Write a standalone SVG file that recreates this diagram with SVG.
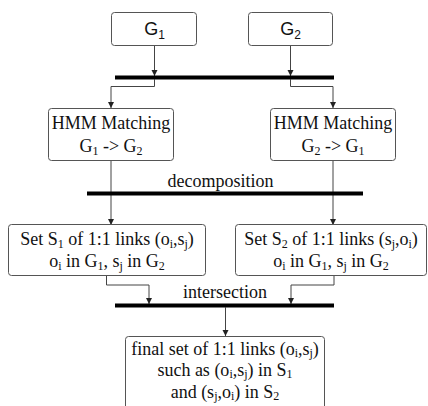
<svg xmlns="http://www.w3.org/2000/svg" width="428" height="406" viewBox="0 0 428 406">
<style>
.box{fill:#fff;stroke:#555;stroke-width:1}
.conn{fill:none;stroke:#444;stroke-width:1}
.bar{stroke:#000;stroke-width:4}
.s{font-family:"Liberation Serif","Times New Roman",serif;font-size:18px;fill:#111;text-anchor:middle}
.g{font-family:"Liberation Sans",Arial,sans-serif;font-size:18px;fill:#111;text-anchor:middle}
.sub{font-size:12px}
</style>
<defs>
<marker id="ah" markerWidth="6" markerHeight="8" refX="6" refY="4" orient="auto" markerUnits="userSpaceOnUse">
<path d="M0,1 L6,4 L0,7 Z" fill="#222"/>
</marker>
</defs>
<g id="connectors">
<path class="conn" d="M154.5,45 V76" marker-end="url(#ah)"/>
<path class="conn" d="M290.5,45 V76" marker-end="url(#ah)"/>
<path class="bar" d="M115,77.5 H334"/>
<path class="conn" d="M154.5,79 V86.5 H111 V108" marker-end="url(#ah)"/>
<path class="conn" d="M290.5,79 V86.5 H333 V108" marker-end="url(#ah)"/>
<path class="conn" d="M111,160 V225" marker-end="url(#ah)"/>
<path class="conn" d="M333,160 V225" marker-end="url(#ah)"/>
<path class="bar" d="M87,193.5 H363"/>
<path class="conn" d="M106.5,276 V285 H149 V304" marker-end="url(#ah)"/>
<path class="conn" d="M334,276 V285 H291 V304" marker-end="url(#ah)"/>
<path class="bar" d="M115,305.5 H334"/>
<path class="conn" d="M225.5,307 V336" marker-end="url(#ah)"/>
</g>
<g id="label-decomposition"><text class="s" x="220.5" y="186.5">decomposition</text></g>
<g id="label-intersection"><text class="s" x="225" y="298">intersection</text></g>
<g id="G1">
<rect class="box" x="111.5" y="12.5" width="85" height="33" rx="3"/>
<text class="g" x="154.5" y="35">G<tspan class="sub" dy="4">1</tspan></text>
</g>
<g id="G2">
<rect class="box" x="248.5" y="12.5" width="84" height="33" rx="3"/>
<text class="g" x="290.5" y="35">G<tspan class="sub" dy="4">2</tspan></text>
</g>
<g id="hmm1">
<rect class="box" x="48.5" y="108.5" width="125" height="52" rx="3"/>
<text class="s" x="111" y="128.5">HMM Matching</text>
<text class="s" x="111" y="151.5">G<tspan class="sub" dy="3">1</tspan><tspan dy="-3"> -&gt; G</tspan><tspan class="sub" dy="3">2</tspan></text>
</g>
<g id="hmm2">
<rect class="box" x="270.5" y="108.5" width="125" height="52" rx="3"/>
<text class="s" x="333" y="128.5">HMM Matching</text>
<text class="s" x="333" y="151.5">G<tspan class="sub" dy="3">2</tspan><tspan dy="-3"> -&gt; G</tspan><tspan class="sub" dy="3">1</tspan></text>
</g>
<g id="set1">
<rect class="box" x="8.5" y="224.5" width="197" height="51" rx="3"/>
<text class="s" x="107" y="245">Set S<tspan class="sub" dy="3">1</tspan><tspan dy="-3"> of 1:1 links (o</tspan><tspan class="sub" dy="3">i</tspan><tspan dy="-3">,s</tspan><tspan class="sub" dy="3">j</tspan><tspan dy="-3">)</tspan></text>
<text class="s" x="107" y="267">o<tspan class="sub" dy="3">i</tspan><tspan dy="-3"> in G</tspan><tspan class="sub" dy="3">1</tspan><tspan dy="-3">, s</tspan><tspan class="sub" dy="3">j</tspan><tspan dy="-3"> in G</tspan><tspan class="sub" dy="3">2</tspan></text>
</g>
<g id="set2">
<rect class="box" x="235.5" y="224.5" width="191" height="51" rx="3"/>
<text class="s" x="331" y="245">Set S<tspan class="sub" dy="3">2</tspan><tspan dy="-3"> of 1:1 links (s</tspan><tspan class="sub" dy="3">j</tspan><tspan dy="-3">,o</tspan><tspan class="sub" dy="3">i</tspan><tspan dy="-3">)</tspan></text>
<text class="s" x="331" y="267">o<tspan class="sub" dy="3">i</tspan><tspan dy="-3"> in G</tspan><tspan class="sub" dy="3">1</tspan><tspan dy="-3">, s</tspan><tspan class="sub" dy="3">j</tspan><tspan dy="-3"> in G</tspan><tspan class="sub" dy="3">2</tspan></text>
</g>
<g id="final">
<rect class="box" x="125.5" y="336.5" width="199" height="80" rx="3"/>
<text class="s" x="225" y="354.5">final set of 1:1 links (o<tspan class="sub" dy="2">i</tspan><tspan dy="-2">,s</tspan><tspan class="sub" dy="2">j</tspan><tspan dy="-2">)</tspan></text>
<text class="s" x="225" y="376">such as (o<tspan class="sub" dy="2">i</tspan><tspan dy="-2">,s</tspan><tspan class="sub" dy="2">j</tspan><tspan dy="-2">) in S</tspan><tspan class="sub" dy="2">1</tspan></text>
<text class="s" x="225" y="398">and (s<tspan class="sub" dy="2">j</tspan><tspan dy="-2">,o</tspan><tspan class="sub" dy="2">i</tspan><tspan dy="-2">) in S</tspan><tspan class="sub" dy="2">2</tspan></text>
</g>
</svg>
